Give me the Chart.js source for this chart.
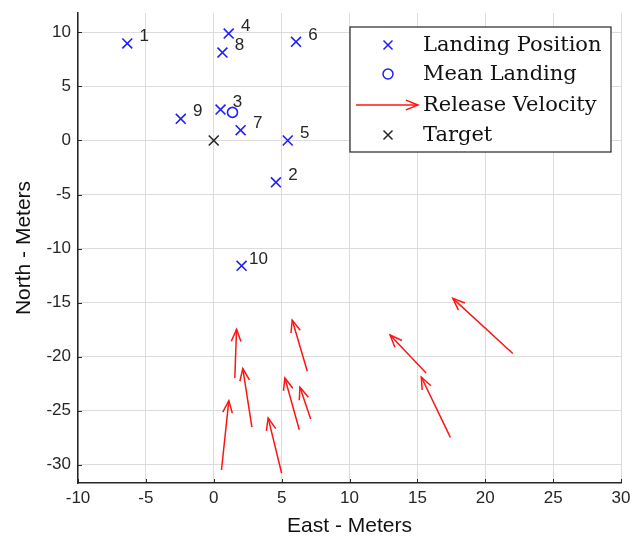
<!DOCTYPE html>
<html>
<head>
<meta charset="utf-8">
<script src="https://cdn.jsdelivr.net/npm/chart.js@4"></script>
<style>
  html, body { margin: 0; padding: 0; background: #fff; }
</style>
</head>
<body>
<canvas id="myChart" width="635" height="543"></canvas>
<script>
// landing positions (East, North) in meters, numbered 1..10
const landX = [-6.37, 4.58, 0.50, 1.10, 5.45, 6.06, 1.98, 0.64, -2.43, 2.05];
const landY = [8.98, -3.87, 2.86, 9.90, 0.0, 9.13, 0.95, 8.14, 2.01, -11.6];
const landLabels = ['1', '2', '3', '4', '5', '6', '7', '8', '9', '10'];

const meanX = [1.38];
const meanY = [2.60];

const targetX = [0];
const targetY = [0];

// release velocity arrows: tail -> head
const arrowTailX = [0.57, 1.55, 2.81, 5.00, 6.30, 7.14, 6.89, 15.64, 17.43, 22.03];
const arrowTailY = [-30.5, -21.98, -26.52, -30.8, -26.77, -25.78, -21.36, -21.51, -27.48, -19.72];
const arrowHeadX = [1.11, 1.68, 2.14, 4.01, 5.24, 6.35, 5.78, 12.99, 15.29, 17.61];
const arrowHeadY = [-24.08, -17.48, -21.11, -25.69, -21.98, -22.84, -16.62, -18.01, -21.89, -14.61];

const xTicks = [-10, -5, 0, 5, 10, 15, 20, 25, 30];
const yTicks = [-30, -25, -20, -15, -10, -5, 0, 5, 10];

const legendLabels = ['Landing Position', 'Mean Landing', 'Release Velocity', 'Target'];

const BLUE = 'rgb(30,30,255)';
const RED = 'rgb(255,20,20)';
const DARK = '#262626';

const toPts = (xs, ys) => xs.map((x, i) => ({ x: x, y: ys[i] }));

const shaftData = [];
arrowTailX.forEach((x, i) => {
  shaftData.push({ x: x, y: arrowTailY[i] });
  shaftData.push({ x: arrowHeadX[i], y: arrowHeadY[i] });
  shaftData.push({ x: null, y: null });
});

function drawHead(ctx, tx, ty, hx, hy, len, ang) {
  const a = Math.atan2(hy - ty, hx - tx);
  ctx.beginPath();
  ctx.moveTo(hx - len * Math.cos(a - ang), hy - len * Math.sin(a - ang));
  ctx.lineTo(hx, hy);
  ctx.lineTo(hx - len * Math.cos(a + ang), hy - len * Math.sin(a + ang));
  ctx.stroke();
}

function drawCross(ctx, x, y, r) {
  ctx.beginPath();
  ctx.moveTo(x - r, y - r); ctx.lineTo(x + r, y + r);
  ctx.moveTo(x - r, y + r); ctx.lineTo(x + r, y - r);
  ctx.stroke();
}

const extras = {
  id: 'extras',
  afterDatasetsDraw(chart) {
    const ctx = chart.ctx;
    const xs = chart.scales.x, ys = chart.scales.y;
    ctx.save();
    // small inward ticks like the original axes
    ctx.strokeStyle = DARK;
    ctx.lineWidth = 1;
    ctx.beginPath();
    xTicks.forEach(v => {
      const px = Math.round(xs.getPixelForValue(v)) + 0.5;
      ctx.moveTo(px, ys.bottom); ctx.lineTo(px, ys.bottom - 4);
    });
    yTicks.forEach(v => {
      const py = Math.round(ys.getPixelForValue(v)) + 0.5;
      ctx.moveTo(xs.left, py); ctx.lineTo(xs.left + 4, py);
    });
    ctx.stroke();
    // arrow heads
    ctx.strokeStyle = RED;
    ctx.lineWidth = 1.5;
    arrowTailX.forEach((x, i) => {
      drawHead(ctx,
        xs.getPixelForValue(x), ys.getPixelForValue(arrowTailY[i]),
        xs.getPixelForValue(arrowHeadX[i]), ys.getPixelForValue(arrowHeadY[i]),
        13, 0.38);
    });
    // point numbers
    ctx.fillStyle = DARK;
    ctx.font = '17px "Liberation Sans", Arial, sans-serif';
    ctx.textAlign = 'center';
    ctx.textBaseline = 'middle';
    landLabels.forEach((t, i) => {
      ctx.fillText(t, xs.getPixelForValue(landX[i]) + 17, ys.getPixelForValue(landY[i]) - 7);
    });
    ctx.restore();
  },
  afterDraw(chart) {
    const ctx = chart.ctx;
    const bx = 350, by = 27, bw = 261, bh = 125;
    ctx.save();
    ctx.fillStyle = '#fff';
    ctx.fillRect(bx, by, bw, bh);
    ctx.strokeStyle = DARK;
    ctx.lineWidth = 1.2;
    ctx.strokeRect(bx, by, bw, bh);

    const rows = [45, 74, 105, 135];
    const mx = 388;
    ctx.lineWidth = 1.5;
    ctx.strokeStyle = BLUE;
    drawCross(ctx, mx, rows[0], 4.5);
    ctx.beginPath();
    ctx.arc(mx, rows[1], 5, 0, Math.PI * 2);
    ctx.stroke();
    ctx.strokeStyle = RED;
    ctx.beginPath();
    ctx.moveTo(356, rows[2]); ctx.lineTo(418, rows[2]);
    ctx.stroke();
    drawHead(ctx, 356, rows[2], 418, rows[2], 13, 0.38);
    ctx.strokeStyle = DARK;
    drawCross(ctx, mx, rows[3], 4.5);

    ctx.fillStyle = '#111';
    ctx.font = '21px "DejaVu Serif", serif';
    ctx.textAlign = 'left';
    ctx.textBaseline = 'middle';
    legendLabels.forEach((t, i) => ctx.fillText(t, 423, rows[i] + 1));
    ctx.restore();
  }
};

const tickFont = { family: '"Liberation Sans", Arial, sans-serif', size: 17 };
const titleFont = { family: '"Liberation Sans", Arial, sans-serif', size: 21 };

new Chart(document.getElementById('myChart').getContext('2d'), {
  type: 'scatter',
  data: {
    datasets: [
      {
        label: legendLabels[0],
        data: toPts(landX, landY),
        pointStyle: 'crossRot',
        radius: 7,
        borderWidth: 1.6,
        borderColor: BLUE,
        backgroundColor: BLUE,
      },
      {
        label: legendLabels[1],
        data: toPts(meanX, meanY),
        pointStyle: 'circle',
        radius: 5,
        borderWidth: 1.6,
        borderColor: BLUE,
        backgroundColor: 'rgba(0,0,0,0)',
      },
      {
        label: legendLabels[2],
        data: shaftData,
        showLine: true,
        spanGaps: false,
        radius: 0,
        borderWidth: 1.5,
        borderColor: RED,
      },
      {
        label: legendLabels[3],
        data: toPts(targetX, targetY),
        pointStyle: 'crossRot',
        radius: 7,
        borderWidth: 1.6,
        borderColor: DARK,
        backgroundColor: DARK,
      },
    ],
  },
  options: {
    responsive: false,
    animation: false,
    devicePixelRatio: 1,
    layout: { padding: { top: 13, right: 14, left: 0, bottom: 0 } },
    plugins: { legend: { display: false }, tooltip: { enabled: false } },
    scales: {
      x: {
        type: 'linear',
        min: xTicks[0],
        max: xTicks[xTicks.length - 1],
        afterBuildTicks: s => { s.ticks = xTicks.map(v => ({ value: v })); },
        afterFit: s => { s.height = 60; s.paddingLeft = 0; s.paddingRight = 0; },
        ticks: { font: tickFont, color: DARK, padding: 5, maxRotation: 0 },
        grid: { color: '#dcdcdc', lineWidth: 1, drawTicks: false },
        border: { color: DARK, width: 1.5 },
        title: { display: true, text: 'East - Meters', font: titleFont, color: '#111', padding: { top: 0, bottom: 4 } },
      },
      y: {
        type: 'linear',
        min: -31.7,
        max: 11.8,
        afterBuildTicks: s => { s.ticks = yTicks.map(v => ({ value: v })); },
        afterFit: s => { s.width = 78; s.paddingTop = 0; s.paddingBottom = 0; },
        ticks: { font: tickFont, color: DARK, padding: 7 },
        grid: { color: '#dcdcdc', lineWidth: 1, drawTicks: false },
        border: { color: DARK, width: 1.5 },
        title: { display: true, text: 'North - Meters', font: titleFont, color: '#111', padding: { top: 12, bottom: 0 } },
      },
    },
  },
  plugins: [extras],
});
</script>
</body>
</html>
